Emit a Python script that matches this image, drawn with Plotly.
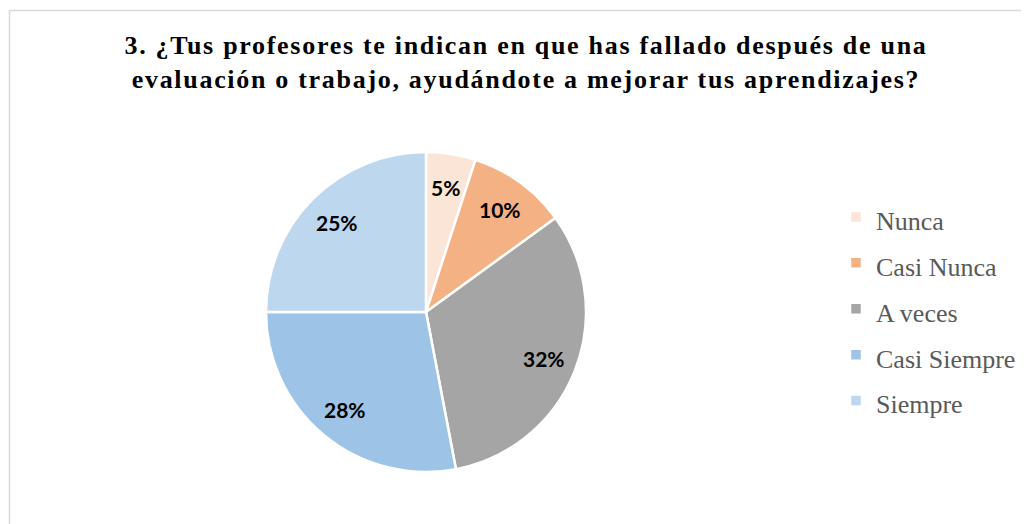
import math
import plotly.graph_objects as go

categories = ["Nunca", "Casi Nunca", "A veces", "Casi Siempre", "Siempre"]
values = [5, 10, 32, 28, 25]
colors = ["#FBE5D6", "#F4B183", "#A5A5A5", "#9DC3E6", "#BDD7EE"]

title_lines = [
    "3. ¿Tus profesores te indican en que has fallado después de una",
    "evaluación o trabajo, ayudándote a mejorar tus aprendizajes?",
]

W, H = 1029, 524
OFF = 8  # page body margin of the written HTML
cx, cy, r = 426 - OFF, 312 - OFF, 160
label_r = 0.79

legend_labels = ["<span style='font-size:26px'>%s</span>" % c for c in categories]

fig = go.Figure()
fig.add_trace(go.Pie(
    labels=legend_labels,
    values=values,
    sort=False,
    direction="clockwise",
    rotation=0,
    marker=dict(colors=colors, line=dict(color="white", width=2.5)),
    textinfo="none",
    domain=dict(x=[(cx - r) / W, (cx + r) / W], y=[(H - cy - r) / H, (H - cy + r) / H]),
    hoverinfo="skip",
))

# percentage labels placed at the mid-angle of each slice
total = sum(values)
annotations = []
cum = 0.0
for v in values:
    mid = (cum + v / 2) / total * 2 * math.pi
    cum += v
    px = cx + label_r * r * math.sin(mid)
    py = cy - label_r * r * math.cos(mid)
    annotations.append(dict(
        x=px / W, y=(H - py) / H, xref="paper", yref="paper",
        text="%d%%" % round(v / total * 100), showarrow=False,
        xanchor="center", yanchor="middle",
        font=dict(family="Lato", size=21, color="black", weight="bold"),
    ))

title_text = "<br>".join("<span style='letter-spacing:1.7px'>%s</span>" % t for t in title_lines)

fig.update_layout(
    width=W, height=H,
    margin=dict(l=0, r=0, t=0, b=0, autoexpand=False),
    paper_bgcolor="white",
    title=dict(
        text=title_text,
        x=518 / W, xanchor="center",
        y=(H - 46) / H, yanchor="top", yref="container",
        font=dict(family="Liberation Serif", size=26, color="black", weight="bold"),
    ),
    legend=dict(
        x=828 / W, y=(H - 301) / H, xanchor="left", yanchor="middle",
        font=dict(family="Liberation Serif", size=33, color="#595959"),
        bgcolor="rgba(0,0,0,0)",
    ),
    showlegend=True,
    annotations=annotations,
    shapes=[dict(
        type="rect", xref="paper", yref="paper",
        x0=1.5 / W, x1=1.05, y0=-0.05, y1=(H - 2.5) / H,
        line=dict(color="#D9D9D9", width=1.5), fillcolor="rgba(0,0,0,0)", layer="below",
    )],
)

fig.write_html("out.html")
